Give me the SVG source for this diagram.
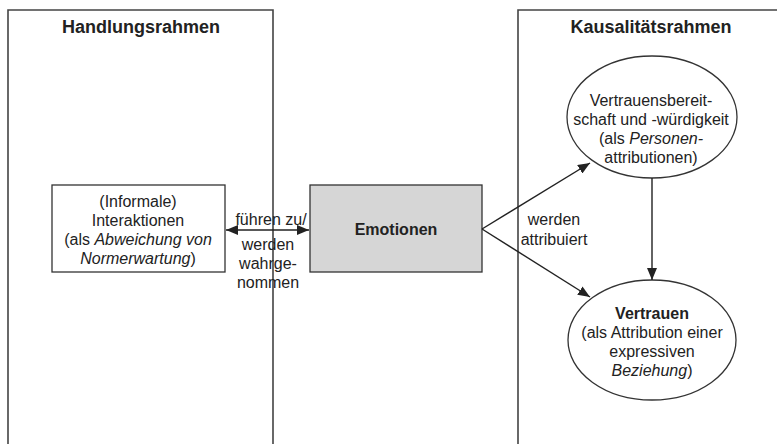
<svg xmlns="http://www.w3.org/2000/svg" width="777" height="444" viewBox="0 0 777 444">
<style>
.frame{fill:none;stroke:#444;stroke-width:1.6}
.box{stroke:#333;stroke-width:1.3}
.t{font-family:"Liberation Sans",Arial,sans-serif;font-size:16px;fill:#222;text-anchor:middle}
.title{font-family:"Liberation Sans",Arial,sans-serif;font-size:18px;font-weight:bold;fill:#222;text-anchor:middle}
.b{font-weight:bold}
.i{font-style:italic}
.conn{stroke:#222;stroke-width:1.4;fill:none}
</style>
<defs>
<marker id="ah" viewBox="0 0 12 10" refX="12" refY="5" markerWidth="12" markerHeight="10" markerUnits="userSpaceOnUse" orient="auto-start-reverse">
<path d="M0,0 L12,5 L0,10 Z" fill="#222"/>
</marker>
</defs>
<rect width="777" height="444" fill="#fff"/>
<g id="handlungsrahmen">
<path class="frame" d="M8,444 V10 H273 V444"/>
<text class="title" x="141" y="33">Handlungsrahmen</text>
</g>
<g id="kausalitaetsrahmen">
<path class="frame" d="M518,444 V10 H780"/>
<text class="title" x="651" y="33">Kausalitätsrahmen</text>
</g>
<g id="interaktionen">
<rect class="box" x="52" y="185" width="173" height="87" fill="#fff"/>
<text class="t" x="138" y="207">(Informale)</text>
<text class="t" x="138" y="226">Interaktionen</text>
<text class="t" x="138" y="245">(als <tspan class="i">Abweichung von</tspan></text>
<text class="t" x="138" y="264"><tspan class="i">Normerwartung</tspan>)</text>
</g>
<g id="emotionen">
<rect class="box" x="310" y="185" width="172" height="87" fill="#d6d6d6"/>
<text class="t b" x="396" y="235">Emotionen</text>
</g>
<g id="vertrauensbereitschaft">
<ellipse class="box" cx="652" cy="117" rx="85" ry="61" fill="#fff"/>
<text class="t" x="651" y="106">Vertrauensbereit-</text>
<text class="t" x="651" y="125">schaft und -würdigkeit</text>
<text class="t" x="651" y="144">(als <tspan class="i">Personen-</tspan></text>
<text class="t" x="651" y="163">attributionen)</text>
</g>
<g id="vertrauen">
<ellipse class="box" cx="652" cy="340" rx="84" ry="60" fill="#fff"/>
<text class="t b" x="652" y="319">Vertrauen</text>
<text class="t" x="652" y="338">(als Attribution einer</text>
<text class="t" x="652" y="357">expressiven</text>
<text class="t" x="652" y="376"><tspan class="i">Beziehung</tspan>)</text>
</g>
<g id="connectors">
<line class="conn" x1="226" y1="230" x2="309" y2="230" marker-start="url(#ah)" marker-end="url(#ah)"/>
<text class="t" x="271" y="225">führen zu/</text>
<text class="t" x="268" y="250">werden</text>
<text class="t" x="268" y="269">wahrge-</text>
<text class="t" x="268" y="288">nommen</text>
<line class="conn" x1="482" y1="229" x2="590" y2="163" marker-end="url(#ah)"/>
<line class="conn" x1="482" y1="229" x2="590" y2="297" marker-end="url(#ah)"/>
<text class="t" x="554" y="225">werden</text>
<text class="t" x="554" y="245">attribuiert</text>
<line class="conn" x1="652" y1="178" x2="652" y2="280" marker-end="url(#ah)"/>
</g>
</svg>
